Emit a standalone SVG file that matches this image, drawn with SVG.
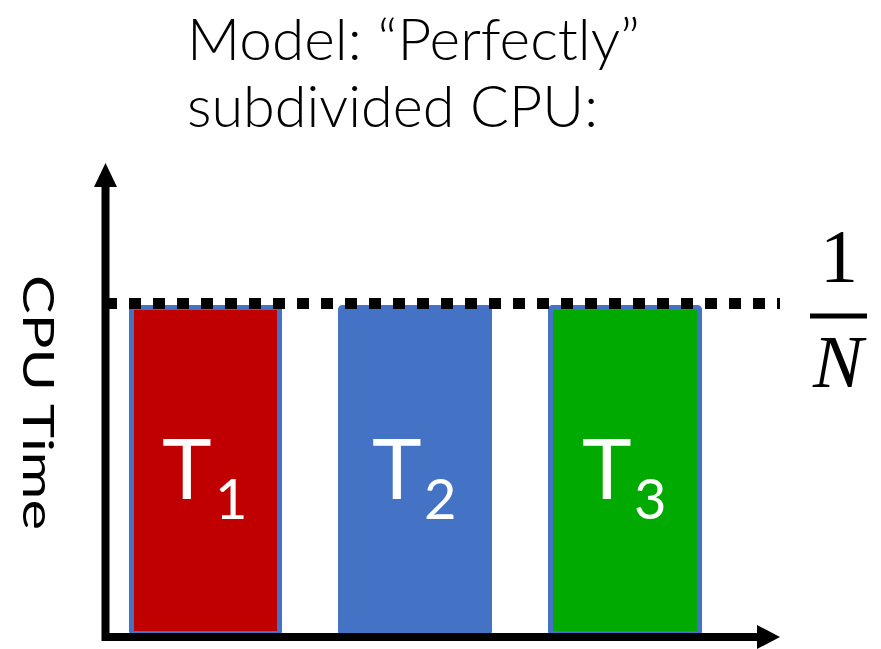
<svg xmlns="http://www.w3.org/2000/svg" width="881" height="649" viewBox="0 0 881 649">
<style>
.title{font-family:Lato,"Noto Sans",sans-serif;font-weight:300;font-size:58px;fill:#000}
.bar{stroke:#4472C4;stroke-width:5}
.lbl{font-family:Lato,"Noto Sans",sans-serif;font-weight:400;fill:#fff}
.big{font-size:84px}
.sub{font-size:56px}
.axis{stroke:#000;stroke-width:8;fill:none}
</style>
<rect width="881" height="649" fill="#fff"/>
<g id="title">
<text class="title" x="187" y="60" textLength="453" lengthAdjust="spacingAndGlyphs">Model: “Perfectly”</text>
<text class="title" x="187" y="127" textLength="411" lengthAdjust="spacingAndGlyphs">subdivided CPU:</text>
</g>
<g id="ylabel">
<text x="23" y="275" transform="rotate(90 23 275)" style="font-family:Lato,'Noto Sans',sans-serif;font-weight:400;font-size:43px" textLength="255" lengthAdjust="spacingAndGlyphs">CPU Time</text>
</g>
<g id="T1">
<rect class="bar" x="131.5" y="307.5" width="148" height="326" rx="2" fill="#C00000"/>
<text class="lbl big" x="162" y="499">T</text>
<text class="lbl sub" x="215" y="519">1</text>
</g>
<g id="T2">
<rect class="bar" x="340.5" y="307.5" width="149" height="326" rx="2" fill="#4472C4"/>
<text class="lbl big" x="372" y="499">T</text>
<text class="lbl sub" x="424" y="519">2</text>
</g>
<g id="T3">
<rect class="bar" x="550.5" y="307.5" width="149" height="326" rx="2" fill="#00AA00"/>
<text class="lbl big" x="582" y="499">T</text>
<text class="lbl sub" x="634" y="519">3</text>
</g>
<g id="connectors">
<line x1="105" y1="303.5" x2="780" y2="303.5" stroke="#000" stroke-width="11" stroke-dasharray="12 12"/>
<line class="axis" x1="105.5" y1="641" x2="105.5" y2="185"/>
<polygon points="94,187 117,187 105.5,163" fill="#000"/>
<line class="axis" x1="102" y1="637" x2="759" y2="637"/>
<polygon points="757,625 757,649 780,637" fill="#000"/>
</g>
<g id="fraction">
<text x="839" y="282" text-anchor="middle" style="font-family:'Liberation Serif',serif;font-size:76px">1</text>
<line x1="810" y1="316" x2="867" y2="316" stroke="#000" stroke-width="5"/>
<text x="838" y="387" text-anchor="middle" style="font-family:'Liberation Serif',serif;font-style:italic;font-size:75px">N</text>
</g>
</svg>
